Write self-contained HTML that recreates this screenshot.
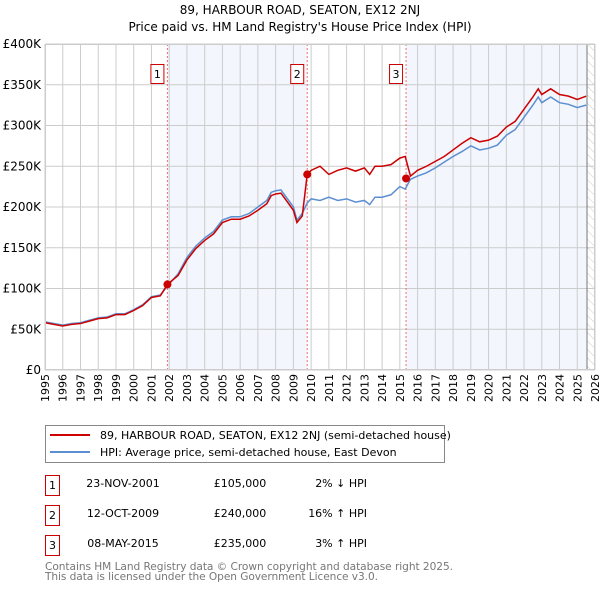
<!DOCTYPE html>
<html><head><meta charset="utf-8"><style>
body{margin:0;background:#fff;font-family:"DejaVu Sans","Liberation Sans",sans-serif;}
svg text{font-family:"DejaVu Sans","Liberation Sans",sans-serif;}
</style></head><body>
<svg id="chart" width="600" height="590" xmlns="http://www.w3.org/2000/svg">
<defs><pattern id="hatch" width="6" height="6" patternUnits="userSpaceOnUse" patternTransform="rotate(-45)"><line x1="0" y1="0" x2="0" y2="6" stroke="#ccc" stroke-width="1"/></pattern></defs>
<text x="300" y="14" text-anchor="middle" font-size="12">89, HARBOUR ROAD, SEATON, EX12 2NJ</text>
<text x="300" y="31" text-anchor="middle" font-size="12">Price paid vs. HM Land Registry's House Price Index (HPI)</text>
<g id="plot"></g>
<g>
<rect x="45.5" y="425.5" width="399" height="37" fill="#fff" stroke="#888"/>
<line x1="50" y1="435" x2="90" y2="435" stroke="#cc0000" stroke-width="2"/>
<text x="100" y="439" font-size="11">89, HARBOUR ROAD, SEATON, EX12 2NJ (semi-detached house)</text>
<line x1="50" y1="452" x2="90" y2="452" stroke="#5b8fd1" stroke-width="2"/>
<text x="100" y="456" font-size="11">HPI: Average price, semi-detached house, East Devon</text>
</g>
<g font-size="11">
<rect x="45.5" y="475.5" width="14" height="20" fill="none" stroke="#cc0000"/><text x="52.5" y="489" text-anchor="middle">1</text>
<text x="123" y="487" text-anchor="middle">23-NOV-2001</text><text x="240" y="487" text-anchor="middle">£105,000</text><text x="367" y="487" text-anchor="end">2% ↓ HPI</text>
<rect x="45.5" y="505.5" width="14" height="20" fill="none" stroke="#cc0000"/><text x="52.5" y="519" text-anchor="middle">2</text>
<text x="123" y="517" text-anchor="middle">12-OCT-2009</text><text x="240" y="517" text-anchor="middle">£240,000</text><text x="367" y="517" text-anchor="end">16% ↑ HPI</text>
<rect x="45.5" y="535.5" width="14" height="20" fill="none" stroke="#cc0000"/><text x="52.5" y="549" text-anchor="middle">3</text>
<text x="123" y="547" text-anchor="middle">08-MAY-2015</text><text x="240" y="547" text-anchor="middle">£235,000</text><text x="367" y="547" text-anchor="end">3% ↑ HPI</text>
</g>
<text x="45" y="570" font-size="10.6" fill="#777" textLength="408">Contains HM Land Registry data © Crown copyright and database right 2025.</text>
<text x="45" y="580" font-size="10.6" fill="#777" textLength="333">This data is licensed under the Open Government Licence v3.0.</text>
</svg>
<script>
const years=[1995,1995.5,1996,1996.5,1997,1997.5,1998,1998.5,1999,1999.5,2000,2000.5,2001,2001.5,2001.9,2002.5,2003,2003.5,2004,2004.5,2005,2005.5,2006,2006.5,2007,2007.5,2007.75,2008,2008.3,2008.6,2009,2009.2,2009.5,2009.78,2010,2010.5,2011,2011.5,2012,2012.5,2013,2013.3,2013.6,2014,2014.5,2015,2015.3,2015.6,2016,2016.5,2017,2017.5,2018,2018.5,2019,2019.5,2020,2020.5,2021,2021.5,2022,2022.5,2022.8,2023,2023.5,2024,2024.5,2025,2025.5];
const hpiValues=[59,57,55,57,58,61,64,65,69,69,74,80,90,92,103,118,138,152,162,170,184,188,188,192,200,208,218,220,221,212,200,184,192,205,210,208,212,208,210,206,208,203,212,212,215,225,222,234,238,242,248,255,262,268,275,270,272,276,288,295,310,325,335,328,335,328,326,322,325];
const priceValues=[58,56,54,56,57,60,63,64,68,68,73,79,89,91,105,116,135,149,159,167,181,185,185,189,196,204,214,216,217,208,196,181,189,240,245,250,240,245,248,244,248,240,250,250,252,260,262,238,245,250,256,262,270,278,285,280,282,287,298,305,320,335,345,338,345,338,336,332,336];
const saleYears=[2001.9,2009.78,2015.35];
const salePrices=[105,240,235];
const saleLabels=["1","2","3"];
const yTicks=[0,50,100,150,200,250,300,350,400];
const yTickLabels=["£0","£50K","£100K","£150K","£200K","£250K","£300K","£350K","£400K"];
const xTicks=[1995,1996,1997,1998,1999,2000,2001,2002,2003,2004,2005,2006,2007,2008,2009,2010,2011,2012,2013,2014,2015,2016,2017,2018,2019,2020,2021,2022,2023,2024,2025,2026];

const NS="http://www.w3.org/2000/svg";
const X0=45,X1=595,Y0=370,Y1=44;
const xs=y=>X0+(y-1995)/(2026-1995)*(X1-X0);
const ys=v=>Y0-v/400*(Y0-Y1);
const g=document.getElementById('plot');
function mk(t,a){const e=document.createElementNS(NS,t);for(const k in a)e.setAttribute(k,a[k]);g.appendChild(e);return e;}
let e=mk('rect',{x:X0,y:Y1,width:X1-X0,height:Y0-Y1,fill:'#fff'});


e=mk('rect',{x:xs(saleYears[0]),y:Y1,width:xs(saleYears[1])-xs(saleYears[0]),height:Y0-Y1,fill:'#f3f6fd'});


e=mk('rect',{x:xs(saleYears[2]),y:Y1,width:xs(2025.55)-xs(saleYears[2]),height:Y0-Y1,fill:'#f3f6fd'});


e=mk('rect',{x:xs(2025.55),y:Y1,width:X1-xs(2025.55),height:Y0-Y1,fill:'url(#hatch)'});


yTicks.forEach((v,i)=>{
 e=mk('line',{x1:X0,x2:X1,y1:ys(v),y2:ys(v),stroke:'#ccc'});
 
 
 e=mk('text',{x:X0-4,y:ys(v)+4,'text-anchor':'end','font-size':12});
 e.textContent=yTickLabels[i];
 
 
});
xTicks.forEach(y=>{
 e=mk('line',{x1:xs(y),x2:xs(y),y1:Y1,y2:Y0,stroke:'#ccc'});
 
 
 e=mk('text',{x:0,y:0,'text-anchor':'end','font-size':11,transform:'translate('+(xs(y)+4)+','+(Y0+4)+') rotate(-90)'});
 e.textContent=y;
 
 
});
e=mk('line',{x1:xs(2025.55),x2:xs(2025.55),y1:Y1,y2:Y0,stroke:'#777'});


saleYears.forEach((y,i)=>{
 e=mk('line',{x1:xs(y),x2:xs(y),y1:Y1,y2:Y0,stroke:'#f07070','stroke-dasharray':'2,2'});
 
 
 e=mk('rect',{x:xs(y)-16.5,y:64.5,width:13,height:19,fill:'#fff',stroke:'#cc0000'});
 
 
 e=mk('text',{x:xs(y)-10,y:78,'text-anchor':'middle','font-size':11});
 e.textContent=saleLabels[i];
 
 
});
e=mk('polyline',{points:years.map((y,i)=>xs(y)+','+ys(hpiValues[i])).join(' '),fill:'none',stroke:'#5b8fd1','stroke-width':1.5});


e=mk('polyline',{points:years.map((y,i)=>xs(y)+','+ys(priceValues[i])).join(' '),fill:'none',stroke:'#cc0000','stroke-width':1.5});


saleYears.forEach((y,i)=>{
 e=mk('circle',{cx:xs(y),cy:ys(salePrices[i]),r:4,fill:'#cc0000'});
 
 
});
e=mk('rect',{x:X0+0.5,y:Y1+0.5,width:X1-X0-1,height:Y0-Y1-1,fill:'none',stroke:'#ccc'});


</script>
</body></html>
